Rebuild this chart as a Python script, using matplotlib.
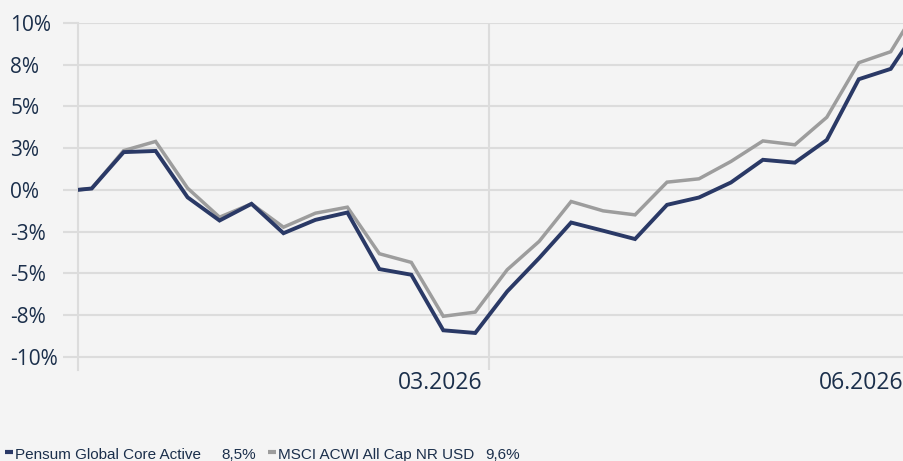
import matplotlib
matplotlib.use("Agg")
import matplotlib.pyplot as plt
from matplotlib.lines import Line2D
from matplotlib.transforms import ScaledTranslation
import numpy as np

# weekly performance since start, in %
dates = ["2025-12-01", "2025-12-04", "2025-12-11", "2025-12-18", "2025-12-25",
         "2026-01-01", "2026-01-08", "2026-01-15", "2026-01-22", "2026-01-29",
         "2026-02-05", "2026-02-12", "2026-02-19", "2026-02-26", "2026-03-05",
         "2026-03-12", "2026-03-19", "2026-03-26", "2026-04-02", "2026-04-09",
         "2026-04-16", "2026-04-23", "2026-04-30", "2026-05-07", "2026-05-14",
         "2026-05-21", "2026-05-28", "2026-05-31"]
fund = [0.0, 0.08, 2.26, 2.33, -0.45, -1.84, -0.84, -2.6, -1.8, -1.36,
        -4.75, -5.09, -8.42, -8.58, -6.09, -4.09, -1.96, -2.45, -2.95, -0.9,
        -0.46, 0.44, 1.8, 1.63, 2.99, 6.63, 7.25, 8.48]
bench = [0.0, 0.08, 2.35, 2.9, 0.1, -1.64, -0.84, -2.24, -1.4, -1.04,
         -3.83, -4.35, -7.58, -7.33, -4.79, -3.09, -0.7, -1.26, -1.5, 0.46,
         0.66, 1.7, 2.93, 2.7, 4.35, 7.62, 8.28, 9.62]
fund_name = "Pensum Global Core Active"
bench_name = "MSCI ACWI All Cap NR USD"

y_ticks = [-10, -7.5, -5, -2.5, 0, 2.5, 5, 7.5, 10]
y_labels = ["-10%", "-8%", "-5%", "-3%", "0%", "3%", "5%", "8%", "10%"]
x_ticks = ["2026-03-01", "2026-06-01"]
x_labels = ["03.2026", "06.2026"]

bg = "#f4f4f4"
grid = "#dcdcdc"
txt = "#1b2f4b"
c_fund = "#2a3966"
c_bench = "#9d9d9d"

x = np.array(dates, dtype="datetime64[D]")

fig = plt.figure(figsize=(9.04, 4.61), dpi=100, facecolor=bg)
ax = fig.add_axes([78 / 904, 91 / 461, 831 / 904, 347 / 461], facecolor=bg)

ax.plot(x, bench, color=c_bench, lw=2.5, solid_joinstyle="miter", zorder=3)
ax.plot(x, fund, color=c_fund, lw=2.8, solid_joinstyle="miter", zorder=4)

ax.set_xlim(np.datetime64("2025-12-01"), np.datetime64("2026-06-01"))
ax.set_ylim(-10.8, 10)

ax.set_yticks(y_ticks)
ax.set_yticklabels(y_labels, ha="left", fontsize=15, color=txt, family="Open Sans")
ax.tick_params(axis="y", length=10.8, width=1.5, color=grid, pad=38)
ax.grid(axis="y", color=grid, lw=1.5)

ax.set_xticks(np.array(x_ticks, dtype="datetime64[D]"))
ax.set_xticklabels(x_labels, ha="right", fontsize=16.5, color=txt, family="Open Sans")
ax.tick_params(axis="x", length=0, pad=1)
ax.grid(axis="x", color=grid, lw=1.5)

for s in ["top", "right", "bottom"]:
    ax.spines[s].set_visible(False)
ax.spines["left"].set_color(grid)
ax.spines["left"].set_linewidth(1.5)

# month labels sit just left of their grid line
shift = ScaledTranslation(-6 / 100, 0, fig.dpi_scale_trans)
for lbl in ax.get_xticklabels():
    lbl.set_transform(lbl.get_transform() + shift)

# legend row
lfont = dict(family="Liberation Sans", size=11, color=txt)
base = 2.5 / 461
for name, col, x0, x1, vals in [(fund_name, c_fund, 5, 256, fund),
                                (bench_name, c_bench, 268, 520, bench)]:
    fig.add_artist(Line2D([x0 / 904, (x0 + 8) / 904], [9 / 461, 9 / 461],
                          transform=fig.transFigure, color=col, lw=3,
                          solid_capstyle="butt"))
    fig.text((x0 + 10) / 904, base, name, ha="left", va="baseline", **lfont)
    fig.text(x1 / 904, base, f"{vals[-1]:.1f}%".replace(".", ","), ha="right",
             va="baseline", **lfont)

fig.savefig("out.png", dpi=100, facecolor=bg)
